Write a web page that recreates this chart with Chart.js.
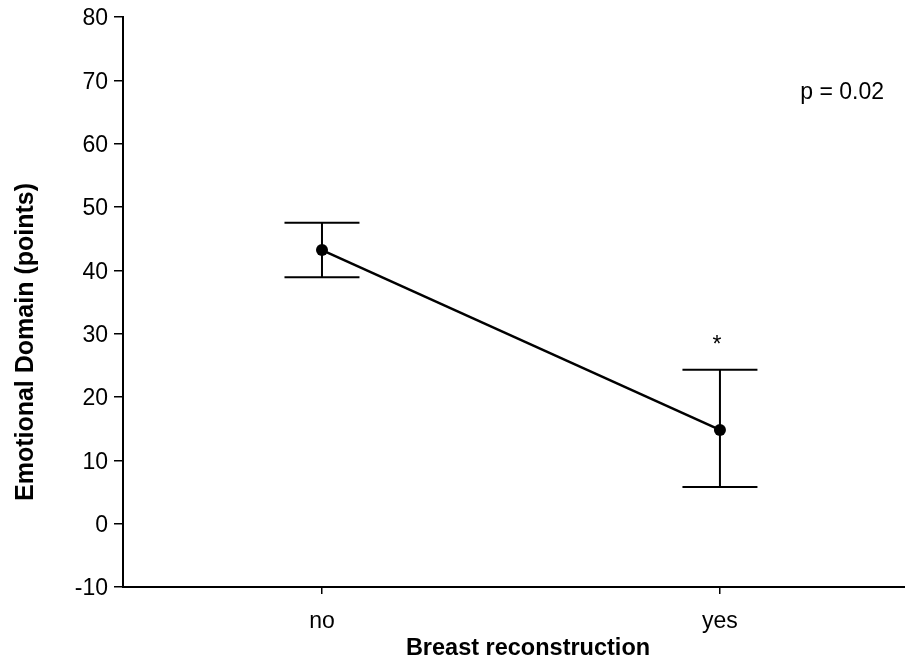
<!DOCTYPE html>
<html>
<head>
<meta charset="utf-8">
<title>Emotional Domain by Breast reconstruction</title>
<script src="https://cdn.jsdelivr.net/npm/chart.js@4"></script>
<style>
  html, body { margin: 0; padding: 0; background: #fff; }
  #wrap { position: relative; width: 905px; height: 663px; }
</style>
</head>
<body>
<div id="wrap"><canvas id="chart"></canvas></div>
<script>
// data
const categories = ['no', 'yes'];
const meanValues = [43.2, 14.8];
const upperValues = [47.5, 24.3];
const lowerValues = [38.9, 5.8];
const markLabels = ['', '*'];
const yTickValues = [-10, 0, 10, 20, 30, 40, 50, 60, 70, 80];
const pText = 'p = 0.02';

const FONT = '"Liberation Sans", Arial, Helvetica, sans-serif';

/* error bars, titles and notes */
const extras = {
  id: 'extras',
  beforeDatasetsDraw(chart) {
    const { ctx, scales: { x, y } } = chart;
    ctx.save();
    ctx.strokeStyle = '#000';
    ctx.lineWidth = 2;
    const cap = 37.5;
    categories.forEach((c, i) => {
      const px = x.getPixelForValue(i);
      const top = y.getPixelForValue(upperValues[i]);
      const bot = y.getPixelForValue(lowerValues[i]);
      ctx.beginPath();
      ctx.moveTo(px, top); ctx.lineTo(px, bot);
      ctx.moveTo(px - cap, top); ctx.lineTo(px + cap, top);
      ctx.moveTo(px - cap, bot); ctx.lineTo(px + cap, bot);
      ctx.stroke();
    });
    ctx.restore();
  },
  afterDraw(chart) {
    const { ctx, scales: { x, y } } = chart;
    ctx.save();
    ctx.fillStyle = '#000';
    // significance marks above the upper bars
    ctx.font = '23px ' + FONT;
    ctx.textAlign = 'center';
    ctx.textBaseline = 'alphabetic';
    markLabels.forEach((m, i) => {
      if (!m) return;
      ctx.fillText(m, x.getPixelForValue(i) - 3, y.getPixelForValue(upperValues[i]) - 18);
    });
    // p value
    ctx.textAlign = 'right';
    ctx.fillText(pText, 884, 99);
    // axis titles
    ctx.font = 'bold 23.5px ' + FONT;
    ctx.textAlign = 'center';
    ctx.fillText('Breast reconstruction', 528, 655);
    ctx.font = 'bold 25px ' + FONT;
    ctx.translate(33, 342);
    ctx.rotate(-Math.PI / 2);
    ctx.fillText('Emotional Domain (points)', 0, 0);
    ctx.restore();
  }
};

new Chart(document.getElementById('chart').getContext('2d'), {
  type: 'line',
  data: {
    datasets: [{
      data: meanValues.map((v, i) => ({ x: i, y: v })),
      borderColor: '#000',
      borderWidth: 2.5,
      backgroundColor: '#000',
      pointRadius: 6,
      pointBackgroundColor: '#000',
      pointBorderWidth: 0,
      tension: 0,
      fill: false
    }]
  },
  options: {
    responsive: true,
    maintainAspectRatio: false,
    animation: false,
    events: [],
    layout: { autoPadding: false, padding: { top: 17, right: 0, bottom: 0, left: 0 } },
    plugins: { legend: { display: false }, tooltip: { enabled: false } },
    scales: {
      x: {
        type: 'linear',
        min: -0.5,
        max: 1.465,
        afterBuildTicks: s => { s.ticks = categories.map((c, i) => ({ value: i })); },
        afterFit: s => { s.height = 76; s.paddingLeft = 0; s.paddingRight = 0; },
        ticks: {
          color: '#000',
          font: { family: FONT, size: 23 },
          padding: 14,
          maxRotation: 0,
          callback: v => categories[v]
        },
        grid: { drawOnChartArea: false, drawTicks: true, tickLength: 7, color: '#000', lineWidth: 1.5 },
        border: { display: true, color: '#000', width: 2 }
      },
      y: {
        min: -10,
        max: 80,
        afterBuildTicks: s => { s.ticks = yTickValues.map(v => ({ value: v })); },
        afterFit: s => { s.width = 123; s.paddingTop = 0; s.paddingBottom = 0; },
        ticks: {
          color: '#000',
          font: { family: FONT, size: 23 },
          padding: 6,
          labelOffset: 2
        },
        grid: { drawOnChartArea: false, drawTicks: true, tickLength: 9, color: '#000', lineWidth: 1.5 },
        border: { display: true, color: '#000', width: 2 }
      }
    }
  },
  plugins: [extras]
});
</script>
</body>
</html>
